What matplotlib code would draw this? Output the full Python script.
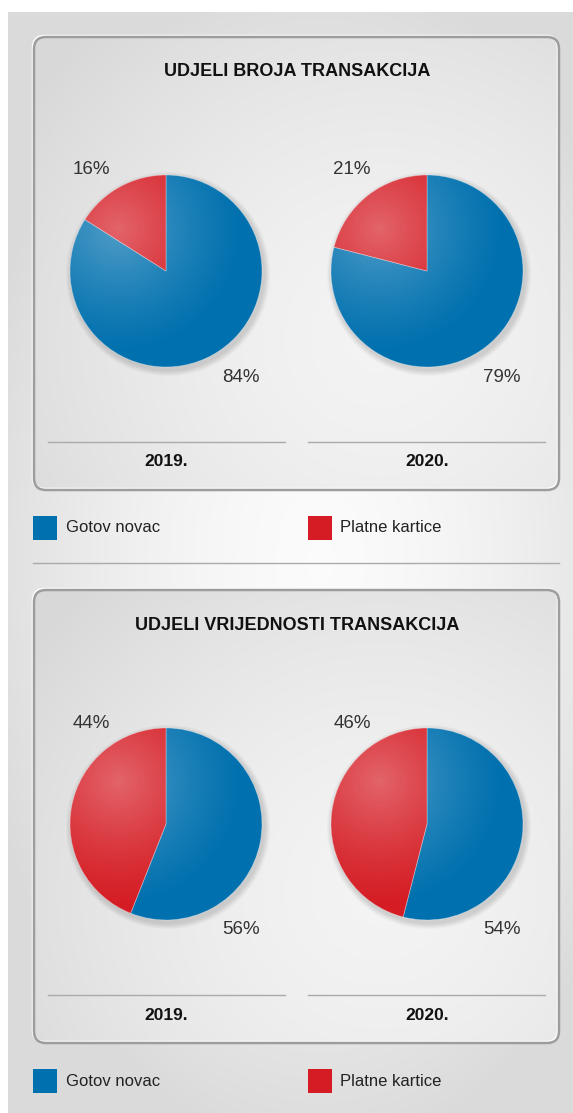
import numpy as np
import matplotlib.pyplot as plt
from matplotlib.patches import FancyBboxPatch, Circle, Rectangle

plt.rcParams['font.family'] = ['Liberation Sans', 'DejaVu Sans']

W, H = 573, 1113

titles = ['UDJELI BROJA TRANSAKCIJA', 'UDJELI VRIJEDNOSTI TRANSAKCIJA']
years = ['2019.', '2020.']
cash_share = [[84, 79], [56, 54]]
card_share = [[16, 21], [44, 46]]
legend_labels = ['Gotov novac', 'Platne kartice']
colors = ['#0070ae', '#d51c24']

panel_tops = [37, 590]
pie_x = [166, 427]
R = 96


def Y(y):
    return H - y


def gray_img(x0, x1, y0, y1, cx, cy, rx, ry, lo, hi):
    xs = np.arange(x0, x1)
    ys = np.arange(y0, y1)
    xx, yy = np.meshgrid(xs, ys)
    d = np.sqrt(((xx - cx) / rx) ** 2 + ((yy - cy) / ry) ** 2)
    v = hi - (hi - lo) * np.clip(d, 0, 1) ** 1.6
    return np.dstack([v, v, v])


fig = plt.figure(figsize=(W / 100, H / 100), dpi=100)
ax = fig.add_axes([0, 0, 1, 1])
ax.set_xlim(0, W)
ax.set_ylim(0, H)
ax.axis('off')

# outer background
bg = gray_img(8, W, 12, H, 320, 560, 360, 600, 0.855, 0.985)
ax.imshow(bg, extent=(8, W, Y(H), Y(12)), origin='upper', zorder=0, aspect='auto')
ax.text(3, Y(-4), 'p', fontsize=12, color='#333333', va='baseline', zorder=1)

for k, top in enumerate(panel_tops):
    bottom = top + 453
    # panel
    box = FancyBboxPatch((34, Y(bottom)), 525, bottom - top,
                         boxstyle='round,pad=0,rounding_size=12',
                         fc='none', ec='#9d9d9d', lw=1.8, zorder=3)
    hl = FancyBboxPatch((33, Y(bottom) + 1), 525, bottom - top,
                        boxstyle='round,pad=0,rounding_size=12',
                        fc='none', ec='white', lw=1.8, zorder=2)
    ax.add_patch(hl)
    ax.add_patch(box)
    pimg = gray_img(34, 559, top, bottom, 380, top + 300, 420, 420, 0.85, 0.955)
    im = ax.imshow(pimg, extent=(34, 559, Y(bottom), Y(top)), origin='upper',
                   zorder=1, aspect='auto')
    im.set_clip_path(box)

    ax.text(297, Y(top + 35), titles[k], fontsize=13, fontweight='bold',
            ha='center', va='center', color='#111111', zorder=5)

    for j, cx in enumerate(pie_x):
        cy = Y(top + 234)
        # soft shadow
        for s in range(6):
            ax.add_patch(Circle((cx + 2, cy - 3), R + 1 + s, fc='black',
                                ec='none', alpha=0.025, zorder=3))
        wedges, _ = ax.pie([cash_share[k][j], card_share[k][j]], colors=colors,
                           startangle=90, counterclock=False, center=(cx, cy),
                           radius=R, frame=True,
                           wedgeprops=dict(edgecolor=(1, 1, 1, 0.35), linewidth=0.6))
        for w in wedges:
            w.set_zorder(4)
        # highlight
        xs = np.arange(cx - R, cx + R)
        ys = np.arange(cy + R, cy - R, -1)
        xx, yy = np.meshgrid(xs, ys)
        hx, hy = cx - 0.5 * R, cy + 0.45 * R
        d = np.sqrt((xx - hx) ** 2 + (yy - hy) ** 2) / (1.35 * R)
        a = 0.32 * np.clip(1 - d, 0, 1) ** 1.3
        rgba = np.dstack([np.ones_like(a), np.ones_like(a), np.ones_like(a), a])
        hi = ax.imshow(rgba, extent=(cx - R, cx + R, cy - R, cy + R),
                       origin='upper', zorder=4.5, aspect='auto')
        clip = Circle((cx, cy), R, transform=ax.transData)
        hi.set_clip_path(clip)

        ax.text(cx - 75, Y(top + 133), f'{card_share[k][j]}%', fontsize=13.5,
                ha='center', va='center', color='#333333', zorder=5)
        ax.text(cx + 75, Y(top + 340), f'{cash_share[k][j]}%', fontsize=13.5,
                ha='center', va='center', color='#333333', zorder=5)

        lx0, lx1 = (48, 285) if j == 0 else (308, 545)
        ax.plot([lx0, lx1], [Y(top + 405), Y(top + 405)], color='#aaaaaa',
                lw=1, zorder=5)
        ax.text(cx, Y(top + 425), years[j], fontsize=12.5, fontweight='bold',
                ha='center', va='center', color='#111111', zorder=5)

    # legend
    ly = top + 491
    for i, (lx, tx) in enumerate([(33, 66), (308, 340)]):
        ax.add_patch(Rectangle((lx, Y(ly + 12)), 24, 24, fc=colors[i],
                               ec='none', zorder=5))
        ax.text(tx, Y(ly), legend_labels[i], fontsize=12, ha='left',
                va='center', color='#222222', zorder=5)

# separator
ax.plot([33, 559], [Y(563), Y(563)], color='#aaaaaa', lw=1, zorder=5)

ax.set_xlim(0, W)
ax.set_ylim(0, H)
ax.set_aspect('auto')
fig.savefig('out.png', dpi=100)
